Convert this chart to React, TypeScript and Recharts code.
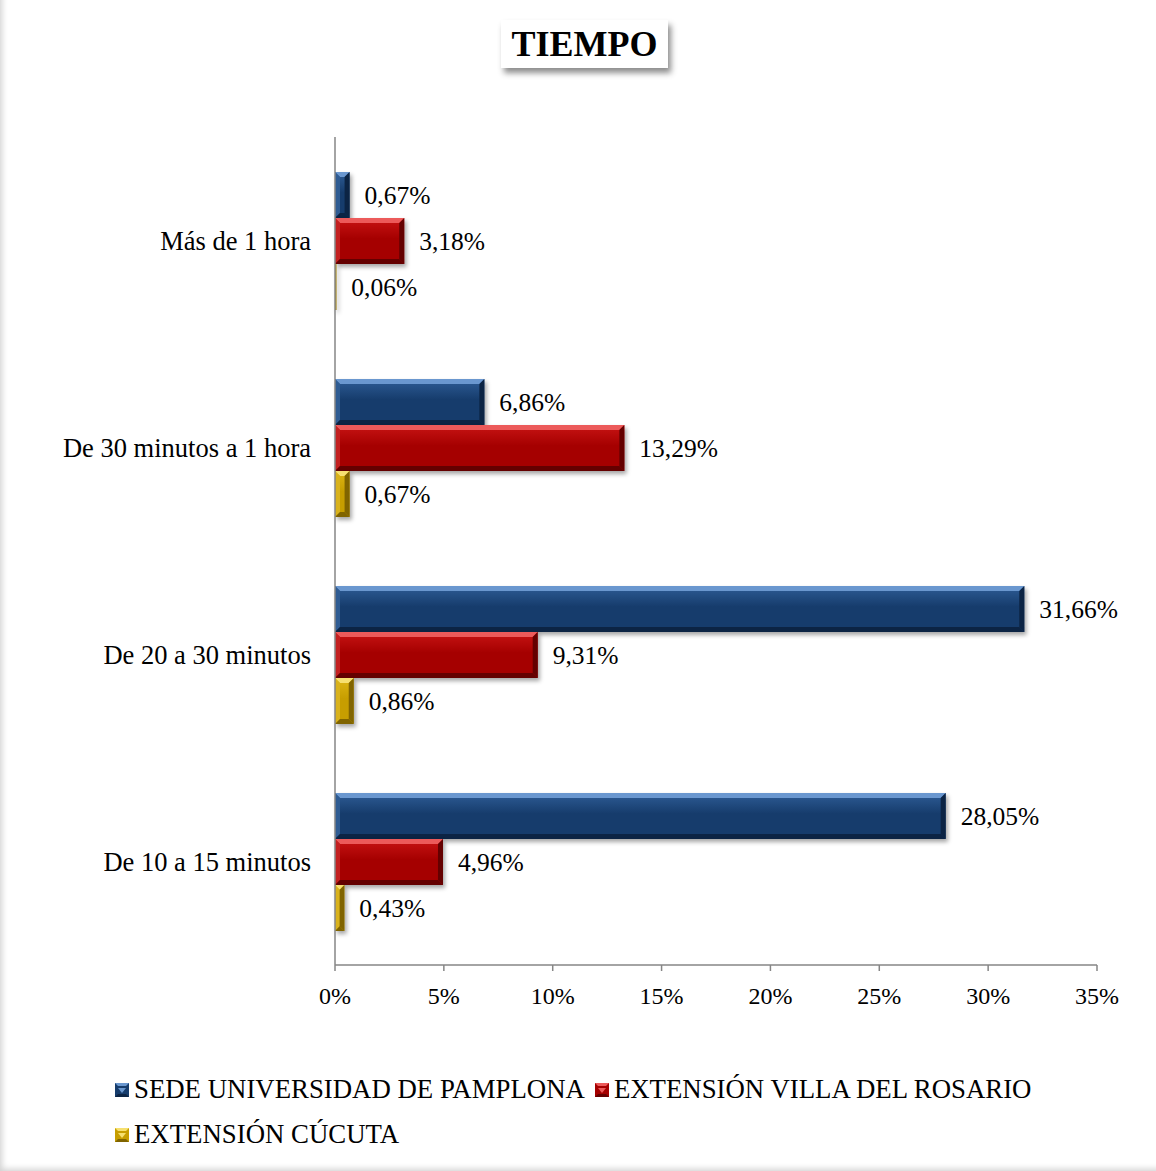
import { BarChart, Bar, XAxis, YAxis, Legend, LabelList } from "recharts";

const categories = ["Más de 1 hora", "De 30 minutos a 1 hora", "De 20 a 30 minutos", "De 10 a 15 minutos"];
const pamplona = [0.67, 6.86, 31.66, 28.05];
const villaRosario = [3.18, 13.29, 9.31, 4.96];
const cucuta = [0.06, 0.67, 0.86, 0.43];
const xTicks = [0, 5, 10, 15, 20, 25, 30, 35];

const seriesNames = ["SEDE UNIVERSIDAD DE PAMPLONA", "EXTENSIÓN VILLA DEL ROSARIO", "EXTENSIÓN CÚCUTA"];

const palette: Record<string, { base: string; top: string; light: string; side: string; dark: string }> = {
  pamplona: { base: "#163C6C", top: "#2E5C96", light: "#6A97CF", side: "#2F5C93", dark: "#0C2444" },
  villa: { base: "#A50000", top: "#C81414", light: "#EC5A5A", side: "#C42020", dark: "#640000" },
  cucuta: { base: "#C79E00", top: "#DDB614", light: "#F6E070", side: "#D9B21C", dark: "#806400" },
};

const data = categories.map((c, i) => ({
  cat: c,
  pamplona: pamplona[i],
  villa: villaRosario[i],
  cucuta: cucuta[i],
}));

const FONT = '"Liberation Serif", "Times New Roman", serif';

const fmt = (v: any) => `${Number(v).toFixed(2).replace(".", ",")}%`;

const bevelShape = (key: string) => (props: any) => {
  const { x, y, width, height } = props;
  if (!width || width <= 0) return null;
  const c = palette[key];
  const b = Math.max(0, Math.min(5, width / 2, height / 2));
  const w = width;
  const h = height;
  return (
    <g style={{ filter: "drop-shadow(2px 3px 2px rgba(0,0,0,0.35))" }}>
      <defs>
        <linearGradient id={`g-${key}`} x1="0" y1="0" x2="0" y2="1">
          <stop offset="0%" stopColor={c.top} />
          <stop offset="45%" stopColor={c.base} />
          <stop offset="100%" stopColor={c.base} />
        </linearGradient>
      </defs>
      <rect x={x} y={y} width={w} height={h} fill={`url(#g-${key})`} />
      <polygon points={`${x},${y} ${x + w},${y} ${x + w - b},${y + b} ${x + b},${y + b}`} fill={c.light} />
      <polygon points={`${x},${y} ${x + b},${y + b} ${x + b},${y + h - b} ${x},${y + h}`} fill={c.side} />
      <polygon points={`${x + w},${y} ${x + w - b},${y + b} ${x + w - b},${y + h - b} ${x + w},${y + h}`} fill={c.dark} />
      <polygon points={`${x},${y + h} ${x + w},${y + h} ${x + w - b},${y + h - b} ${x + b},${y + h - b}`} fill={c.dark} />
    </g>
  );
};

const LegendIcon = ({ k }: { k: string }) => {
  const c = palette[k];
  return (
    <svg width={14} height={14} style={{ marginRight: 5, flexShrink: 0 }}>
      <rect x={0} y={0} width={14} height={14} fill={c.base} />
      <polygon points="0,0 14,0 11,3 3,3" fill={c.light} />
      <polygon points="3,5 11,5 7,10" fill={c.light} />
      <polygon points="0,14 14,14 11,11 3,11" fill={c.dark} />
    </svg>
  );
};

const keys = ["pamplona", "villa", "cucuta"];

const renderLegend = () => (
  <div style={{ display: "flex", flexWrap: "wrap", width: 960, fontFamily: FONT, fontSize: 26.8, color: "#000" }}>
    {keys.map((k, i) => (
      <div key={k} style={{ display: "flex", alignItems: "center", height: 45, marginRight: 10 }}>
        <LegendIcon k={k} />
        <span>{seriesNames[i]}</span>
      </div>
    ))}
  </div>
);

export default function App() {
  return (
    <div
      style={{
        position: "absolute",
        left: 0,
        top: 0,
        width: 1156,
        height: 1171,
        background: "#fff",
        boxShadow: "inset 6px -6px 6px -4px rgba(0,0,0,0.18)",
      }}
    >
      <div
        style={{
          position: "absolute",
          left: 501,
          top: 20,
          width: 167,
          height: 48,
          background: "#fff",
          boxShadow: "3px 5px 6px rgba(0,0,0,0.45)",
          fontFamily: FONT,
          fontWeight: "bold",
          fontSize: 36,
          lineHeight: "48px",
          textAlign: "center",
          color: "#000",
          zIndex: 2,
        }}
      >
        TIEMPO
      </div>
      <BarChart
        width={1156}
        height={1171}
        data={data}
        layout="vertical"
        margin={{ top: 137, right: 59, bottom: 56, left: 0 }}
        barGap={0}
        barSize={46}
        style={{ fontFamily: FONT }}
      >
        <XAxis
          type="number"
          domain={[0, 35]}
          ticks={xTicks}
          tickFormatter={(v) => `${v}%`}
          axisLine={{ stroke: "#868686", strokeWidth: 1.5 }}
          tickLine={{ stroke: "#868686", strokeWidth: 1.5 }}
          tickSize={6}
          tickMargin={16}
          tick={{ fill: "#000", fontSize: 24, fontFamily: FONT }}
          height={60}
        />
        <YAxis
          type="category"
          dataKey="cat"
          width={335}
          axisLine={{ stroke: "#868686", strokeWidth: 1.5 }}
          tickLine={false}
          tickSize={0}
          tickMargin={24}
          tick={{ fill: "#000", fontSize: 26.5, fontFamily: FONT }}
        />
        <Legend
          content={renderLegend}
          layout="horizontal"
          verticalAlign="bottom"
          align="left"
          wrapperStyle={{ position: "absolute", left: 115, top: 1067, width: 960 }}
        />
        {keys.map((k, i) => (
          <Bar key={k} dataKey={k} name={seriesNames[i]} fill={palette[k].base} shape={bevelShape(k)} isAnimationActive={false}>
            <LabelList
              dataKey={k}
              position="right"
              offset={15}
              formatter={fmt}
              style={{ fill: "#000", fontSize: 25.5, fontFamily: FONT }}
            />
          </Bar>
        ))}
      </BarChart>
    </div>
  );
}
